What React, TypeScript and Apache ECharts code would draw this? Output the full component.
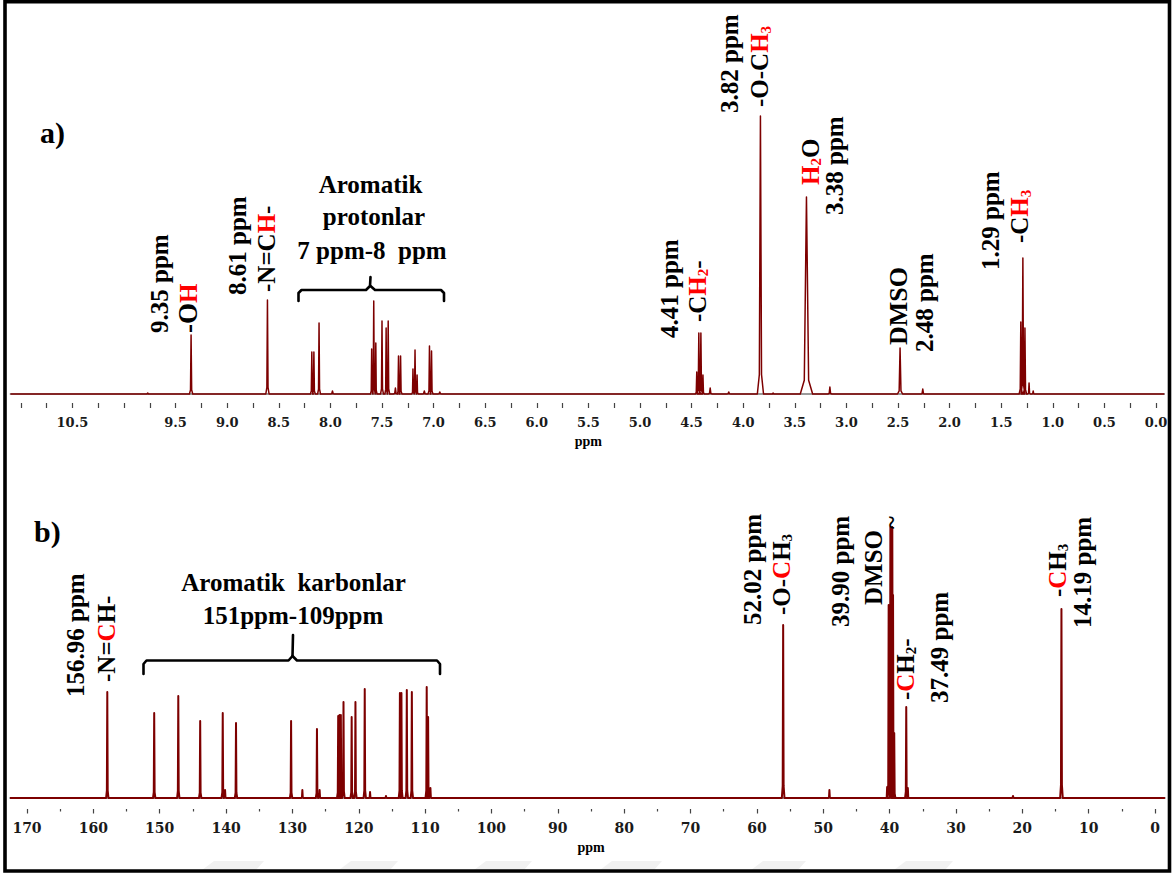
import { useEffect, useRef } from 'react';
import * as echarts from 'echarts';

// ---------- DATA ----------
// a) 1H NMR peak list: chemical shift (ppm), relative intensity, half line width (ppm)
const H_PEAK_PPM = [9.77, 9.35, 8.61, 8.18, 8.16, 8.11, 7.98, 7.60, 7.58, 7.56, 7.50, 7.46, 7.44, 7.37, 7.34, 7.32, 7.20, 7.18, 7.16, 7.09, 7.04, 7.02, 6.94, 4.45, 4.43, 4.41, 4.39, 4.32, 4.14, 3.833, 3.71, 3.387, 3.16, 2.48, 2.26, 1.31, 1.29, 1.27, 1.23, 1.19];
const H_PEAK_INTENSITY = [1, 59, 94, 42, 42, 71, 3, 45, 93, 51, 73, 66, 73, 6, 38, 38, 25, 44, 19, 3, 48, 43, 2, 22, 61, 61, 19, 6, 2, 278, 1, 197, 7, 46, 5, 72, 136, 66, 11, 3];
const H_PEAK_HALFWIDTH = [0.02, 0.016, 0.016, 0.014, 0.014, 0.014, 0.02, 0.012, 0.014, 0.012, 0.014, 0.012, 0.014, 0.02, 0.014, 0.014, 0.012, 0.014, 0.012, 0.02, 0.014, 0.014, 0.02, 0.014, 0.016, 0.016, 0.014, 0.02, 0.02, 0.03, 0.02, 0.06, 0.02, 0.025, 0.02, 0.016, 0.018, 0.016, 0.014, 0.014];

// b) 13C NMR peak list
const C_PEAK_PPM = [157.9, 150.83, 147.2, 143.9, 140.5, 140.15, 138.5, 130.2, 128.5, 126.3, 125.9, 123.1, 122.9, 122.7, 122.3, 121.07, 120.5, 119.1, 118.3, 115.9, 113.8, 113.57, 112.76, 112.0, 109.76, 109.55, 109.2, 56.04, 49.07, 40.37, 40.14, 39.88, 39.59, 39.48, 39.3, 37.49, 37.25, 21.4, 14.1];
const C_PEAK_INTENSITY = [106, 85, 102, 77, 85, 8, 75, 77, 8, 69, 8, 82, 83, 83, 96, 81, 96, 109, 6, 2, 105, 105, 108, 106, 111, 81, 10, 173, 8, 11, 193, 271, 271, 203, 65, 91, 10, 2, 189];
const C_PEAK_HALFWIDTH = [0.18, 0.18, 0.18, 0.18, 0.18, 0.18, 0.18, 0.18, 0.18, 0.18, 0.18, 0.18, 0.18, 0.18, 0.18, 0.18, 0.18, 0.18, 0.18, 0.18, 0.18, 0.18, 0.18, 0.18, 0.18, 0.18, 0.18, 0.2, 0.18, 0.18, 0.18, 0.18, 0.18, 0.18, 0.18, 0.18, 0.18, 0.2, 0.2];

// axis extents and tick labels
const H_AXIS_EXTENT = [-0.08, 11.1];
const H_TICK_EXTENT = [0, 11];
const H_TICK_LABELS = ['10.5', '9.5', '9.0', '8.5', '8.0', '7.5', '7.0', '6.5', '6.0', '5.5', '5.0', '4.5', '4.0', '3.5', '3.0', '2.5', '2.0', '1.5', '1.0', '0.5', '0.0'];
const C_AXIS_EXTENT = [-1.5, 172.56];
const C_TICK_EXTENT = [0, 170];
const C_TICK_LABELS = ['170', '160', '150', '140', '130', '120', '110', '100', '90', '80', '70', '60', '50', '40', '30', '20', '10', '0'];

// ---------- LAYOUT ----------
const W = 1176;
const H = 874;
const TOP = { zeroX: 1156, px: 103.2, axisY: 403, base: 9, gridTop: 100 };
const BOT = { zeroX: 1155, px: 6.6353, axisY: 809, base: 11, gridTop: 500 };

const SERIF = '"Liberation Serif", "Times New Roman", serif';
const LINE_COLOR = '#7d0000';

function buildSpectrum(ppm: number[], inten: number[], hw: number[], hi: number, lo: number) {
  const peaks = ppm.map((p, i) => ({ p, h: inten[i], w: hw[i] })).sort((a, b) => b.p - a.p);
  const pts: number[][] = [[hi, 0]];
  for (const k of peaks) {
    pts.push([k.p + k.w, 0]);
    pts.push([k.p + k.w * 0.35, k.h * 0.07]);
    pts.push([k.p, k.h]);
    pts.push([k.p - k.w * 0.35, k.h * 0.07]);
    pts.push([k.p - k.w, 0]);
  }
  pts.push([lo, 0]);
  return pts;
}

function gridFor(L: typeof TOP, lo: number, hi: number) {
  const xl = L.zeroX - hi * L.px;
  const xr = L.zeroX - lo * L.px;
  return {
    left: xl,
    right: W - xr,
    top: L.gridTop,
    height: L.axisY - L.gridTop,
    outerBoundsMode: 'none',
    containLabel: false,
  };
}

const RICH = {
  r: { font: `bold 25px ${SERIF}`, fill: '#ff0000' },
  rs: { font: `bold 15px ${SERIF}`, fill: '#ff0000', padding: [12, 0, 0, 0] },
  s: { font: `bold 15px ${SERIF}`, fill: '#000000', padding: [12, 0, 0, 0] },
};

// rotated annotation lines: [text, centre x, bottom y, font size]
const V_LABELS: [string, number, number, number][] = [
  ['9.35 ppm', 159.5, 333, 25],
  ['-O{r|H}', 188, 333, 27],
  ['8.61 ppm', 237.5, 295, 25],
  ['-N=C{r|H}-', 266, 292, 25],
  ['4.41 ppm', 669, 338, 25],
  ['-C{r|H}{rs|2}-', 697, 322, 25],
  ['3.82 ppm', 729.5, 113, 25],
  ['-O-C{r|H}{rs|3}', 759.5, 107, 25],
  ['{r|H}{rs|2}O', 810, 185, 25],
  ['3.38 ppm', 834.5, 215, 25],
  ['DMSO', 898.5, 345, 26],
  ['2.48 ppm', 924.5, 352, 25],
  ['1.29 ppm', 990.5, 270, 25],
  ['-C{r|H}{rs|3}', 1019.5, 243, 25],
  ['156.96 ppm', 75.5, 697, 25],
  ['-N={r|C}H-', 106, 682, 25],
  ['52.02 ppm', 752, 625, 25],
  ['-O-{r|C}H{s|3}', 781, 615, 25],
  ['39.90 ppm', 840, 627, 25],
  ['DMSO', 873, 605, 25],
  ['~', 891, 529, 25],
  ['-{r|C}H{s|2}-', 905, 700, 25],
  ['37.49 ppm', 939.5, 703, 25],
  ['-{r|C}H{s|3}', 1057, 597, 25],
  ['14.19 ppm', 1082.5, 628, 25],
];

// horizontal annotation lines: [text, centre x, centre y, font size]
const H_LABELS: [string, number, number, number][] = [
  ['Aromatik', 370.5, 184.5, 25],
  ['protonlar', 374, 216.5, 25],
  ['7 ppm-8  ppm', 372, 250, 25],
  ['Aromatik  karbonlar', 293.5, 582, 25],
  ['151ppm-109ppm', 293, 615.5, 25],
];

export default function App() {
  const ref = useRef<HTMLDivElement>(null);

  useEffect(() => {
    document.body.style.margin = '0';
    if (!ref.current) return;
    const chart = echarts.init(ref.current, null, { renderer: 'svg' });

    const hSet = new Set(H_TICK_LABELS);
    const cSet = new Set(C_TICK_LABELS);

    const tickLabelFont = (size: number) => ({
      fontFamily: '"DejaVu Serif", serif',
      fontWeight: 'bold' as const,
      fontSize: size,
      color: '#1a1a1a',
    });

    const graphics: any[] = [];

    // faint watermark bands at the foot of the page
    const wm = [[202, 264], [339, 398], [474, 532], [600, 662], [751, 806], [894, 953]];
    wm.forEach(([a, b]) => {
      graphics.push({
        type: 'polygon',
        silent: true,
        z: 0,
        shape: { points: [[a + 12, 861], [b, 861], [b - 8, 870], [a, 870]] },
        style: { fill: '#f1f1f1' },
      });
    });

    V_LABELS.forEach(([text, cx, by, size]) => {
      graphics.push({
        type: 'text',
        x: cx,
        y: by,
        rotation: Math.PI / 2,
        z: 10,
        style: {
          text,
          font: `bold ${size}px ${SERIF}`,
          fill: '#000000',
          align: 'left',
          verticalAlign: 'middle',
          rich: RICH,
        },
      });
    });

    H_LABELS.forEach(([text, cx, cy, size]) => {
      graphics.push({
        type: 'text',
        x: cx,
        y: cy,
        z: 10,
        style: {
          text,
          font: `bold ${size}px ${SERIF}`,
          fill: '#000000',
          align: 'center',
          verticalAlign: 'middle',
        },
      });
    });

    // panel letters
    graphics.push({ type: 'text', x: 40, y: 132, z: 10, style: { text: 'a)', font: `bold 30px ${SERIF}`, fill: '#000', align: 'left', verticalAlign: 'middle' } });
    graphics.push({ type: 'text', x: 34, y: 531, z: 10, style: { text: 'b)', font: `bold 30px ${SERIF}`, fill: '#000', align: 'left', verticalAlign: 'middle' } });

    // braces
    const brace = { stroke: '#000000', lineWidth: 2.6, fill: null, lineJoin: 'round', lineCap: 'round' };
    graphics.push({ type: 'polyline', z: 10, shape: { points: [[298.5, 301], [298.5, 293], [301.5, 290], [366, 290], [370, 286], [370.5, 277]] }, style: brace });
    graphics.push({ type: 'polyline', z: 10, shape: { points: [[444, 301], [444, 293], [441, 290], [375, 290], [370.5, 286]] }, style: brace });
    graphics.push({ type: 'polyline', z: 10, shape: { points: [[143.5, 674], [143.5, 664], [146.5, 660.5], [288.5, 660.5], [292.5, 656], [293, 635]] }, style: brace });
    graphics.push({ type: 'polyline', z: 10, shape: { points: [[440, 674], [440, 664], [437, 660.5], [297, 660.5], [292.5, 656]] }, style: brace });

    // outer frame
    graphics.push({
      type: 'rect',
      z: 20,
      silent: true,
      shape: { x: 5, y: 1.7, width: 1164.5, height: 869.3 },
      style: { fill: null, stroke: '#000000', lineWidth: 3.6 },
    });

    const option: any = {
      animation: false,
      backgroundColor: '#ffffff',
      grid: [
        gridFor(TOP, H_AXIS_EXTENT[0], H_AXIS_EXTENT[1]),
        gridFor(TOP, H_TICK_EXTENT[0], H_TICK_EXTENT[1]),
        gridFor(BOT, C_AXIS_EXTENT[0], C_AXIS_EXTENT[1]),
        gridFor(BOT, C_TICK_EXTENT[0], C_TICK_EXTENT[1]),
      ],
      xAxis: [
        {
          gridIndex: 0, type: 'value', inverse: true,
          min: H_AXIS_EXTENT[0], max: H_AXIS_EXTENT[1],
          axisLine: { show: true, lineStyle: { color: '#9a9a9a', width: 1.8 } },
          axisTick: { show: false }, axisLabel: { show: false }, splitLine: { show: false },
        },
        {
          gridIndex: 1, type: 'value', inverse: true,
          min: H_TICK_EXTENT[0], max: H_TICK_EXTENT[1], interval: 0.5,
          axisLine: { show: false },
          axisTick: { show: true, length: 5, lineStyle: { color: '#444', width: 1.2 } },
          minorTick: { show: true, splitNumber: 2, length: 5, lineStyle: { color: '#444', width: 1.2 } },
          splitLine: { show: false }, minorSplitLine: { show: false },
          axisLabel: {
            margin: 13,
            ...tickLabelFont(13),
            formatter: (v: number) => { const s = v.toFixed(1); return hSet.has(s) ? s : ''; },
          },
          name: 'ppm', nameLocation: 'middle', nameGap: 31,
          nameTextStyle: { fontFamily: SERIF, fontWeight: 'bold', fontSize: 14, color: '#000' },
        },
        {
          gridIndex: 2, type: 'value', inverse: true,
          min: C_AXIS_EXTENT[0], max: C_AXIS_EXTENT[1],
          axisLine: { show: true, lineStyle: { color: '#9a9a9a', width: 1.8 } },
          axisTick: { show: false }, axisLabel: { show: false }, splitLine: { show: false },
        },
        {
          gridIndex: 3, type: 'value', inverse: true,
          min: C_TICK_EXTENT[0], max: C_TICK_EXTENT[1], interval: 10,
          axisLine: { show: false },
          axisTick: { show: true, length: 4.5, lineStyle: { color: '#444', width: 1.2 } },
          minorTick: { show: true, splitNumber: 2, length: 2.5, lineStyle: { color: '#444', width: 1.2 } },
          splitLine: { show: false }, minorSplitLine: { show: false },
          axisLabel: {
            margin: 12,
            ...tickLabelFont(14),
            formatter: (v: number) => { const s = String(Math.round(v)); return cSet.has(s) ? s : ''; },
          },
          name: 'ppm', nameLocation: 'middle', nameGap: 31,
          nameTextStyle: { fontFamily: SERIF, fontWeight: 'bold', fontSize: 14, color: '#000' },
        },
      ],
      yAxis: [
        { gridIndex: 0, type: 'value', show: false, min: -TOP.base, max: TOP.axisY - TOP.gridTop - TOP.base, splitLine: { show: false } },
        { gridIndex: 1, type: 'value', show: false, min: 0, max: 1, splitLine: { show: false } },
        { gridIndex: 2, type: 'value', show: false, min: -BOT.base, max: BOT.axisY - BOT.gridTop - BOT.base, splitLine: { show: false } },
        { gridIndex: 3, type: 'value', show: false, min: 0, max: 1, splitLine: { show: false } },
      ],
      series: [
        {
          name: '1H NMR', type: 'line', xAxisIndex: 0, yAxisIndex: 0,
          data: buildSpectrum(H_PEAK_PPM, H_PEAK_INTENSITY, H_PEAK_HALFWIDTH, H_AXIS_EXTENT[1], H_AXIS_EXTENT[0]),
          showSymbol: false, symbol: 'none', silent: true,
          lineStyle: { color: LINE_COLOR, width: 1.5, join: 'round' },
        },
        {
          name: '13C NMR', type: 'line', xAxisIndex: 2, yAxisIndex: 2,
          data: buildSpectrum(C_PEAK_PPM, C_PEAK_INTENSITY, C_PEAK_HALFWIDTH, C_AXIS_EXTENT[1], C_AXIS_EXTENT[0]),
          showSymbol: false, symbol: 'none', silent: true,
          lineStyle: { color: LINE_COLOR, width: 2, join: 'round' },
        },
      ],
      graphic: { elements: graphics },
    };

    chart.setOption(option);
    return () => chart.dispose();
  }, []);

  return <div ref={ref} style={{ width: W, height: H }} />;
}
